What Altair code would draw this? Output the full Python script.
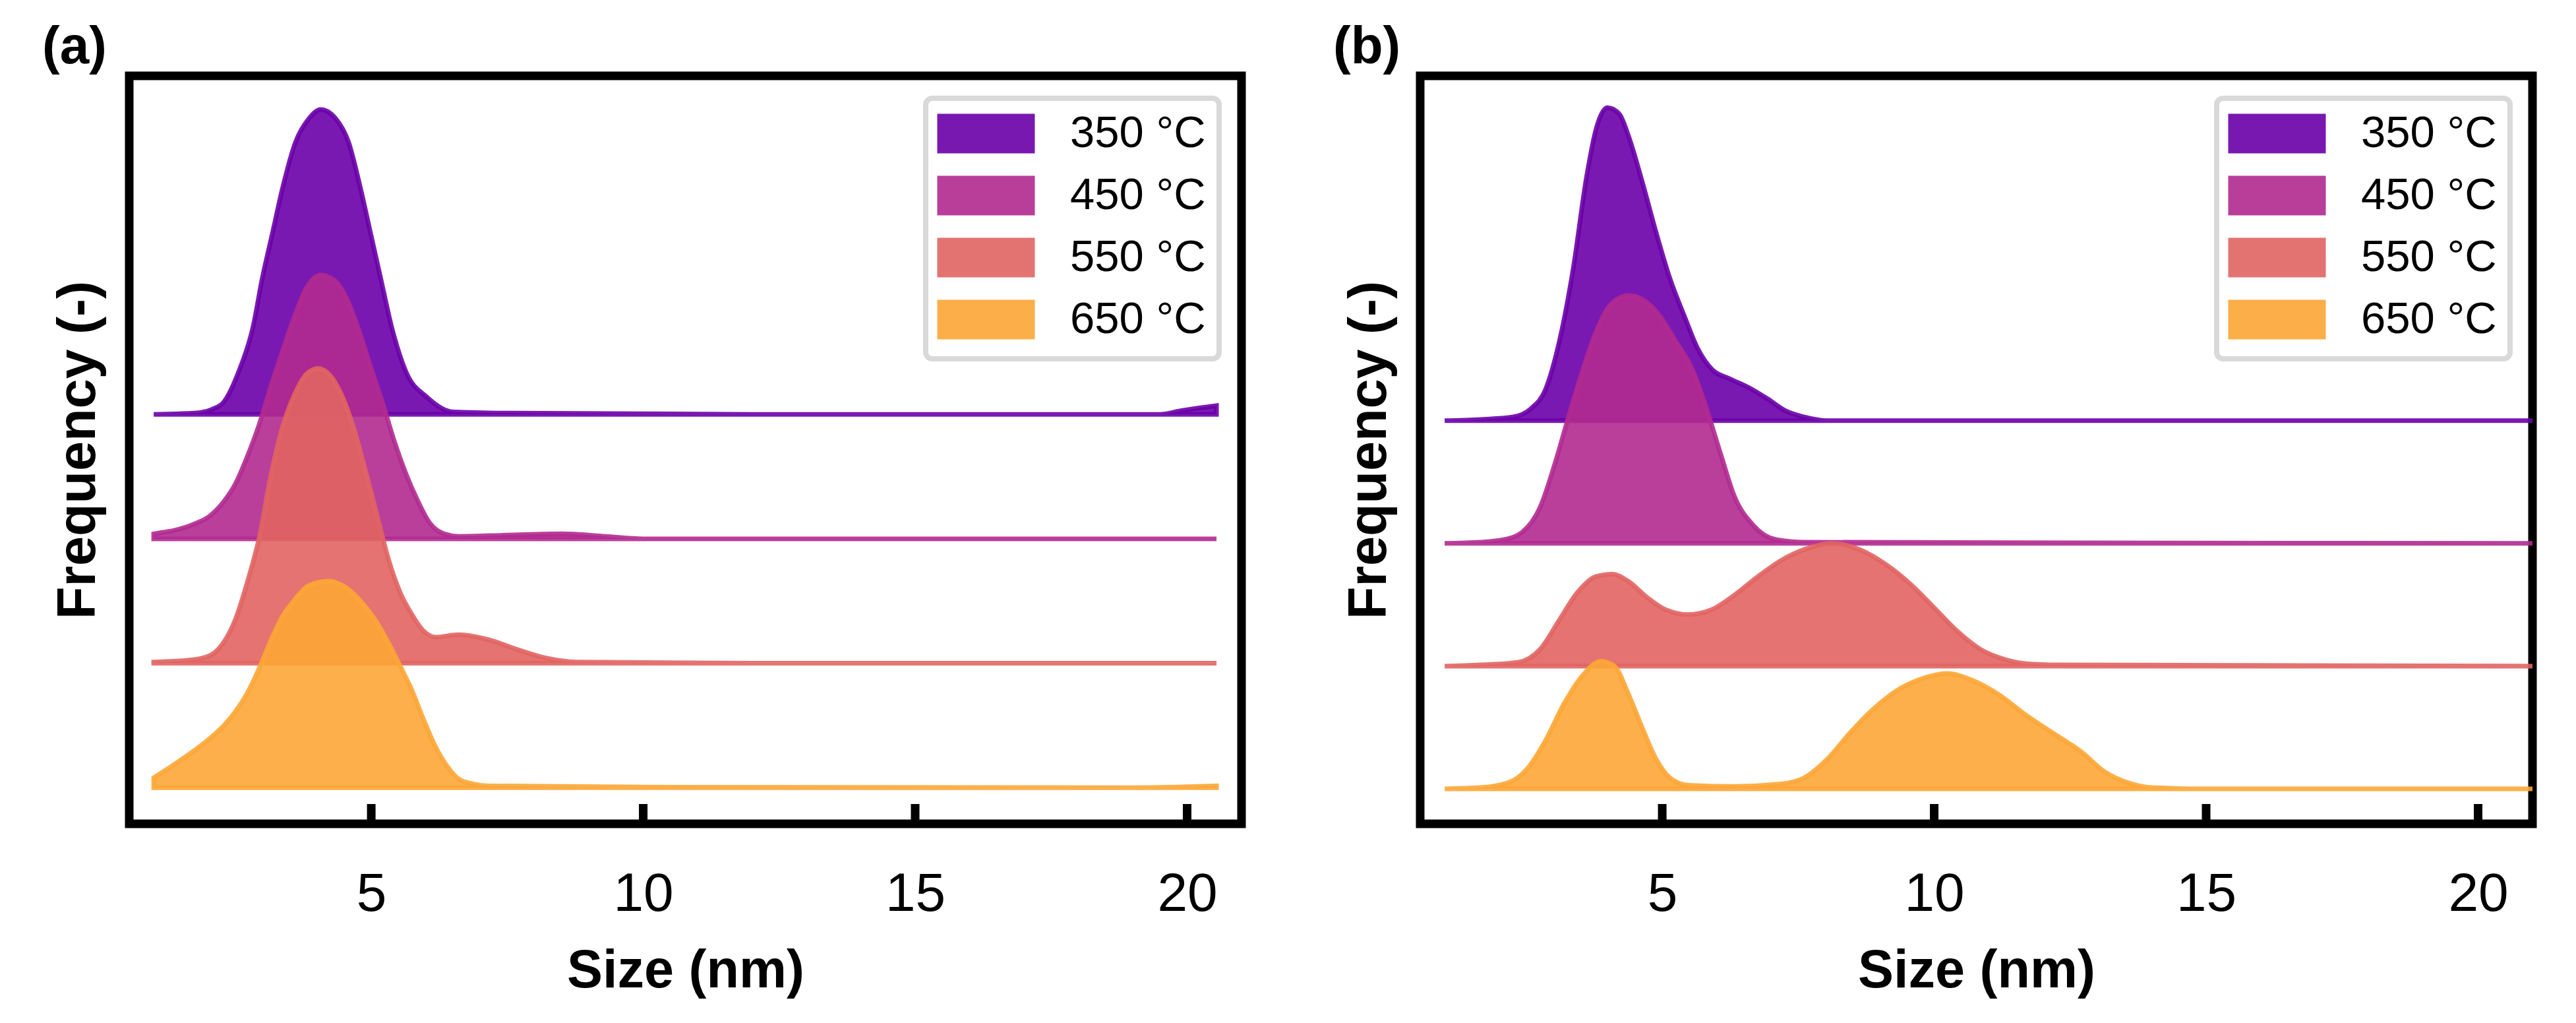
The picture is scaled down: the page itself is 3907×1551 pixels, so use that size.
import pandas as pd
import altair as alt

temps = ["350 °C", "450 °C", "550 °C", "650 °C"]
offsets = [3, 2, 1, 0]
colors = ["#6a00a8", "#b12a90", "#e16462", "#fca636"]
tick_values = [5, 10, 15, 20]

# panel (a): size (nm) / frequency
a350_x = [1.0, 1.75, 2.07, 2.29, 2.56, 2.83, 2.99, 3.18, 3.37, 3.61, 3.86, 4.07, 4.34, 4.58, 4.80, 4.99, 5.18, 5.37, 5.64, 6.02, 6.50, 7.5, 12.0, 19.5, 19.9, 20.2, 20.54]
a350_y = [0.0, 0.01, 0.04, 0.10, 0.34, 0.71, 1.08, 1.45, 1.82, 2.19, 2.38, 2.45, 2.38, 2.19, 1.82, 1.45, 1.08, 0.71, 0.34, 0.14, 0.02, 0.01, 0.0, 0.0, 0.03, 0.05, 0.07]
a450_x = [1.0, 1.75, 2.02, 2.29, 2.50, 2.72, 2.94, 3.15, 3.37, 3.59, 3.80, 4.07, 4.34, 4.56, 4.77, 4.99, 5.21, 5.42, 5.64, 5.86, 6.07, 6.34, 6.61, 7.5, 8.5, 9.3, 10.0, 15.0, 20.54]
a450_y = [0.04, 0.12, 0.18, 0.30, 0.44, 0.66, 0.92, 1.22, 1.51, 1.79, 2.01, 2.12, 2.07, 1.92, 1.68, 1.38, 1.09, 0.79, 0.52, 0.30, 0.13, 0.04, 0.02, 0.03, 0.04, 0.02, 0.0, 0.0, 0.0]
a550_x = [1.0, 1.75, 2.07, 2.29, 2.50, 2.72, 2.94, 3.15, 3.37, 3.59, 3.80, 4.02, 4.23, 4.45, 4.67, 4.88, 5.10, 5.32, 5.53, 5.75, 5.96, 6.18, 6.61, 7.15, 7.69, 8.23, 8.77, 12.0, 20.54]
a550_y = [0.01, 0.03, 0.07, 0.17, 0.35, 0.65, 1.01, 1.50, 1.90, 2.16, 2.32, 2.37, 2.32, 2.16, 1.90, 1.57, 1.20, 0.83, 0.57, 0.39, 0.26, 0.21, 0.23, 0.19, 0.11, 0.04, 0.01, 0.0, 0.0]
a650_x = [1.0, 1.32, 1.75, 2.07, 2.29, 2.50, 2.72, 2.94, 3.15, 3.37, 3.59, 3.80, 4.02, 4.23, 4.45, 4.67, 4.88, 5.10, 5.32, 5.53, 5.75, 5.96, 6.18, 6.40, 6.61, 6.88, 7.15, 10.0, 19.0, 20.54]
a650_y = [0.08, 0.17, 0.30, 0.41, 0.50, 0.61, 0.76, 0.96, 1.18, 1.38, 1.51, 1.61, 1.65, 1.66, 1.63, 1.56, 1.46, 1.33, 1.16, 0.98, 0.78, 0.55, 0.33, 0.17, 0.07, 0.03, 0.015, 0.005, 0.0, 0.015]

# panel (b)
b350_x = [1.0, 1.66, 2.25, 2.59, 2.85, 3.10, 3.36, 3.61, 3.78, 3.99, 4.21, 4.38, 4.63, 4.89, 5.14, 5.40, 5.65, 5.91, 6.25, 6.59, 6.93, 7.27, 7.61, 8.03, 21.0]
b350_y = [0.0, 0.01, 0.03, 0.10, 0.25, 0.63, 1.23, 1.99, 2.37, 2.55, 2.50, 2.32, 1.95, 1.53, 1.16, 0.86, 0.59, 0.42, 0.34, 0.27, 0.18, 0.08, 0.03, 0.0, 0.0]
b450_x = [1.0, 1.66, 2.08, 2.42, 2.76, 3.02, 3.27, 3.53, 3.78, 4.04, 4.38, 4.89, 5.23, 5.57, 5.82, 6.08, 6.33, 6.67, 7.10, 7.61, 21.0]
b450_y = [0.0, 0.01, 0.03, 0.09, 0.30, 0.64, 1.02, 1.40, 1.72, 1.94, 2.02, 1.89, 1.66, 1.40, 1.09, 0.72, 0.38, 0.15, 0.03, 0.01, 0.0]
b550_x = [1.0, 1.66, 2.34, 2.76, 3.10, 3.44, 3.78, 4.08, 4.38, 4.72, 5.06, 5.48, 5.91, 6.33, 6.76, 7.18, 7.61, 8.12, 8.63, 9.14, 9.56, 9.99, 10.41, 10.84, 11.26, 11.69, 12.29, 21.0]
b550_y = [0.0, 0.01, 0.03, 0.14, 0.37, 0.60, 0.73, 0.75, 0.69, 0.56, 0.46, 0.42, 0.46, 0.58, 0.73, 0.86, 0.95, 1.00, 0.95, 0.82, 0.67, 0.48, 0.29, 0.14, 0.06, 0.02, 0.01, 0.0]
b650_x = [1.0, 1.66, 2.17, 2.51, 2.85, 3.19, 3.53, 3.87, 4.12, 4.38, 4.63, 4.89, 5.14, 5.48, 6.33, 7.18, 7.61, 8.03, 8.46, 8.88, 9.31, 9.73, 10.24, 10.67, 11.18, 11.69, 12.20, 12.71, 13.13, 13.56, 13.99, 15.0, 21.0]
b650_y = [0.0, 0.01, 0.05, 0.16, 0.39, 0.69, 0.92, 1.04, 1.00, 0.77, 0.50, 0.24, 0.09, 0.03, 0.02, 0.04, 0.09, 0.24, 0.46, 0.65, 0.80, 0.89, 0.94, 0.89, 0.77, 0.60, 0.45, 0.30, 0.14, 0.05, 0.01, 0.0, 0.0]

FONT = "Liberation Sans"
W, H = 1687, 1134


def make_df(series):
    rows = []
    for temp, off, (xs, ys) in zip(temps, offsets, series):
        for x, y in zip(xs, ys):
            rows.append({"size": x, "top": off + y, "base": off, "temp": temp})
    return pd.DataFrame(rows)


def legend():
    # wide flat swatch: path drawn at 2.63x the nominal symbol size
    return alt.Legend(
        title=None, orient="top-right", offset=34,
        symbolType="M-2.63,-1H2.63V1H-2.63Z", symbolSize=2916,
        symbolStrokeWidth=6, symbolOpacity=0.9, symbolOffset=38,
        labelFontSize=67, labelFont=FONT, labelColor="black", labelLimit=500,
        labelOffset=94, rowPadding=15, padding=20,
        strokeColor="#d9d9d9", cornerRadius=10, fillColor="white",
    )


def panel(series, ydomain, label):
    df = make_df(series)
    layers = []
    for temp in temps:
        layers.append(
            alt.Chart(df).transform_filter(alt.datum.temp == temp).mark_area(
                interpolate="monotone", fillOpacity=0.9, strokeOpacity=0.9, strokeWidth=7
            ).encode(
                x=alt.X("size:Q", scale=alt.Scale(domain=[0.55, 21.0], nice=False, zero=False),
                        axis=alt.Axis(values=tick_values, format="d", ticks=False, domain=False,
                                      grid=False, labelFontSize=82, labelFont=FONT,
                                      labelColor="black", labelPadding=66, title="Size (nm)",
                                      titleFontSize=81, titleFont=FONT, titleFontWeight="bold",
                                      titleColor="black", titlePadding=36)),
                y=alt.Y("top:Q", stack=None,
                        scale=alt.Scale(domain=ydomain, nice=False, zero=False),
                        axis=alt.Axis(title="Frequency (-)", labels=False, ticks=False, domain=False,
                                      grid=False, titleFontSize=81, titleFont=FONT,
                                      titleFontWeight="bold", titleColor="black", titlePadding=36)),
                y2="base:Q",
                color=alt.Color("temp:N", scale=alt.Scale(domain=temps, range=colors), legend=legend()),
                stroke=alt.Stroke("temp:N", scale=alt.Scale(domain=temps, range=colors), legend=legend()),
            )
        )

    # inward ticks on the bottom frame
    ticks = alt.Chart(pd.DataFrame({"size": tick_values})).mark_rule(
        color="black", strokeWidth=13
    ).encode(
        x="size:Q",
        y=alt.value(H),
        y2=alt.value(H - 30),
    )
    layers.append(ticks)

    return alt.layer(*layers).properties(
        width=W, height=H,
        title=alt.TitleParams(label, anchor="start", frame="bounds", fontSize=80,
                              fontWeight="bold", font=FONT, color="black", offset=2, dx=-14),
    )


left = panel([(a350_x, a350_y), (a450_x, a450_y), (a550_x, a550_y), (a650_x, a650_y)],
             [-0.29, 5.72], "(a)")
right = panel([(b350_x, b350_y), (b450_x, b450_y), (b550_x, b550_y), (b650_x, b650_y)],
              [-0.285, 5.81], "(b)")

chart = alt.hconcat(left, right, spacing=125).resolve_scale(
    x="independent", y="independent", color="independent", stroke="independent"
).resolve_legend(
    color="independent", stroke="independent"
).properties(
    padding={"left": 49, "top": 17, "right": 5, "bottom": 5}
).configure_view(
    stroke="black", strokeWidth=13
).configure_legend(
    strokeWidth=8
)

chart.save("out.html", embed_options={"renderer": "svg", "actions": False})
